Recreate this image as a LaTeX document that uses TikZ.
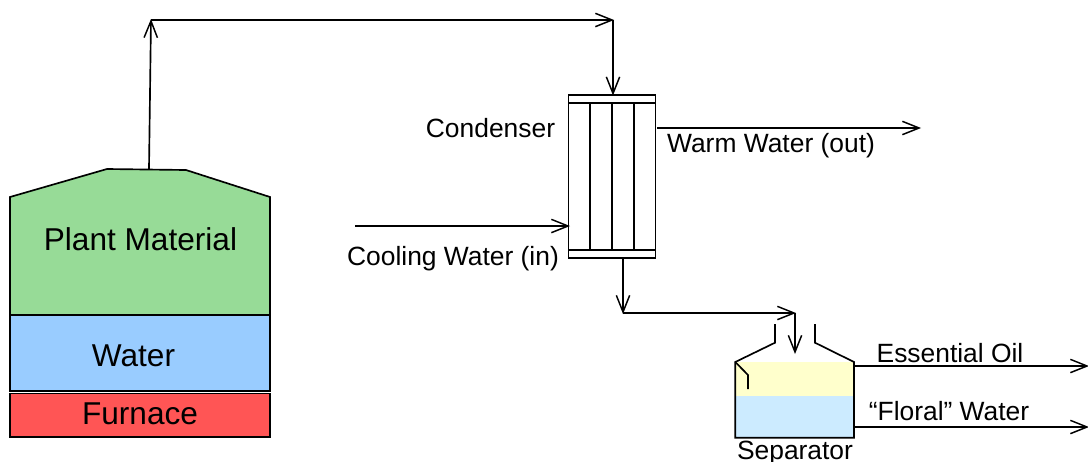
\documentclass[tikz,border=0pt]{standalone}
\usepackage{fontspec}
\setmainfont{Liberation Sans}
\usetikzlibrary{arrows.meta}
\definecolor{plantgreen}{HTML}{97DB97}
\definecolor{waterblue}{HTML}{99CCFF}
\definecolor{furnacered}{HTML}{FF5555}
\definecolor{oilyellow}{HTML}{FFFFCC}
\definecolor{floralblue}{HTML}{CCEBFF}
\tikzset{
  line/.style={line width=1.25pt,line join=miter,draw=black},
  flow/.style={line,-{Straight Barb[length=12.5pt,width=10pt,line width=1.1pt]}},
  solidbox/.style={line,rectangle,inner sep=0pt,outer sep=0pt},
  bigtext/.style={anchor=base,inner sep=0pt,font=\fontsize{23.7}{28}\selectfont},
  smalltext/.style={anchor=base,inner sep=0pt,font=\fontsize{19.8}{24}\selectfont},
}
\begin{document}
\begin{tikzpicture}[x=0.75pt,y=-0.75pt]
\useasboundingbox (0,0) rectangle (1088,461);
% still
\draw[line,fill=plantgreen] (10,197) -- (107,169) -- (186,170) -- (270,197) -- (270,315) -- (10,315) -- cycle;
\node[solidbox,fill=waterblue,minimum width=195pt,minimum height=57pt] (water) at (140,353) {};
\node[solidbox,fill=furnacered,minimum width=195.4pt,minimum height=32.5pt] (furnace) at (140,415) {};
\node[bigtext] (lplant) at (140.5,250) {Plant Material};
\node[bigtext] (lwater) at (133.5,366) {Water};
\node[bigtext] (lfurnace) at (140,424) {Furnace};
% condenser
\node[solidbox,minimum width=65.2pt,minimum height=122.2pt] (cond) at (612,176.2) {};
\coordinate (ctl) at (568.5,102.7); \coordinate (ctr) at (655.5,102.7);
\coordinate (cbl) at (568.5,249.7); \coordinate (cbr) at (655.5,249.7);
\draw[line] (ctl) -- (ctr);
\draw[line] (cbl) -- (cbr);
\foreach \x in {590,612,633.7}{\draw[line] (\x,102.7) -- (\x,249.7);}
% separator
\node[rectangle,fill=oilyellow,minimum width=89pt,minimum height=25.5pt,inner sep=0pt,outer sep=0pt] (oil) at (794.6,379) {};
\node[rectangle,fill=floralblue,minimum width=89pt,minimum height=31.3pt,inner sep=0pt,outer sep=0pt] (floral) at (794.6,416.9) {};
\coordinate (stl) at (735.3,362); \coordinate (str) at (854,362);
\coordinate (sbl) at (735.3,437.7); \coordinate (sbr) at (854,437.7);
\draw[line] (775,324) -- (775,342.7) -- (stl) -- (sbl) -- (sbr) -- (str) -- (815,342.7) -- (815,324);
\draw[line] (stl) -- (748,375) -- (748,389);
% connectors
\coordinate (stilltop) at (149,169);
\coordinate (t1) at (151,19);
\coordinate (t2) at (614,20);
\coordinate (condin) at (613,95.5);
\coordinate (warmstart) at (657,128);
\coordinate (warmend) at (921,128);
\coordinate (coolstart) at (355,226);
\coordinate (coolend) at (570,226);
\coordinate (condout) at (623,257.7);
\coordinate (t3) at (623,314);
\coordinate (t4) at (796,313);
\coordinate (sepin) at (795,354);
\coordinate (oilstart) at (854,366);
\coordinate (oilend) at (1089,366);
\coordinate (florstart) at (854,427);
\coordinate (florend) at (1089,427);
\draw[flow] (stilltop) -- (t1);
\draw[flow] (151,20) -- (t2);
\draw[flow] (613,20) -- (condin);
\draw[flow] (warmstart) -- (warmend);
\draw[flow] (coolstart) -- (coolend);
\draw[flow] (condout) -- (t3);
\draw[flow] (623,313) -- (t4);
\draw[flow] (795,313) -- (sepin);
\draw[flow] (oilstart) -- (oilend);
\draw[flow] (florstart) -- (florend);
% labels
\node[smalltext] (lcond) at (490.5,137) {Condenser};
\node[smalltext] (lwarm) at (771,152.5) {Warm Water (out)};
\node[smalltext] (lcool) at (453,265) {Cooling Water (in)};
\node[smalltext] (loil) at (950,362) {Essential Oil};
\node[smalltext] (lfloral) at (949,420) {“Floral” Water};
\node[smalltext] (lsep) at (795,459) {Separator};
\end{tikzpicture}
\end{document}
